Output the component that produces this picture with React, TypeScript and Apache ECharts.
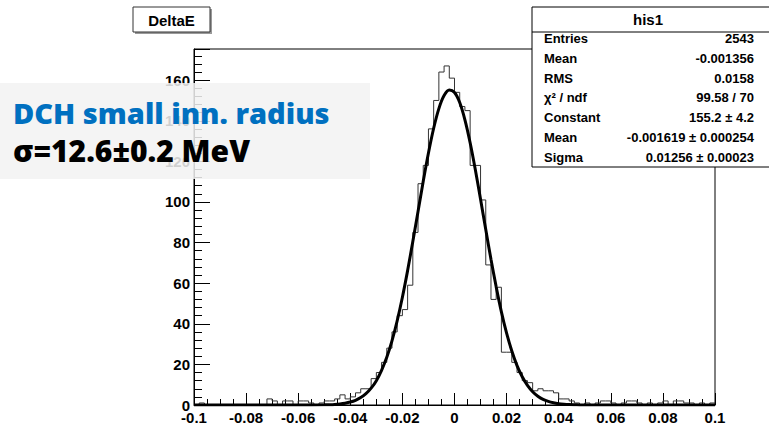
import React, { useEffect, useRef } from "react";
import * as echarts from "echarts";

// Histogram: 100 bins from -0.1 to 0.1 (bin width 0.002)
const binLow = -0.1;
const binWidth = 0.002;
const counts = [
  0, 1, 0, 0, 0, 0, 0, 0, 0, 0,
  0, 0, 0, 0, 3, 2, 0, 2, 2, 0,
  2, 2, 1, 0, 1, 2, 2, 3, 5, 3,
  4, 6, 8, 8, 13, 16, 21, 28, 36, 44,
  47, 59, 85, 109, 118, 136, 150, 164, 167, 161,
  154, 147, 145, 118, 118, 101, 69, 52, 58, 26,
  26, 21, 16, 12, 11, 7, 8, 7, 7, 6,
  3, 3, 2, 1, 0, 1, 0, 1, 2, 2,
  1, 0, 1, 2, 2, 1, 0, 1, 0, 1,
  2, 0, 2, 2, 1, 1, 0, 1, 0, 1,
];

// Gaussian fit curve
const fitX = [
  -0.1, -0.08, -0.06, -0.05, -0.048, -0.046, -0.044, -0.042, -0.04, -0.038, -0.036,
  -0.034, -0.032, -0.03, -0.028, -0.026, -0.024, -0.022, -0.02, -0.018, -0.016,
  -0.014, -0.012, -0.01, -0.008, -0.006, -0.004, -0.002, 0, 0.002, 0.004, 0.006,
  0.008, 0.01, 0.012, 0.014, 0.016, 0.018, 0.02, 0.022, 0.024, 0.026, 0.028, 0.03,
  0.032, 0.034, 0.036, 0.038, 0.04, 0.042, 0.044, 0.046, 0.048, 0.05, 0.06, 0.08, 0.1,
];
const fitY = [
  0, 0, 0, 0.09, 0.17, 0.3, 0.52, 0.88, 1.45, 2.33, 3.65,
  5.57, 8.29, 12.0, 17.1, 23.5, 31.6, 41.5, 53.1, 66.2, 80.5,
  95.3, 110.2, 124.1, 136.3, 146.0, 152.4, 155.1, 153.9, 149.0, 140.5, 129.2,
  115.9, 101.3, 86.4, 71.8, 58.2, 45.9, 35.4, 26.6, 19.4, 13.9, 9.65, 6.55,
  4.33, 2.8, 1.76, 1.08, 0.64, 0.38, 0.21, 0.12, 0.06, 0.03, 0, 0, 0,
];

const histTitle = "DeltaE";
const statsName = "his1";
const statsLabels = ["Entries", "Mean", "RMS", "χ² / ndf", "Constant", "Mean", "Sigma"];
const statsValues = [
  "2543",
  "-0.001356",
  "0.0158",
  "99.58 / 70",
  "155.2 ± 4.2",
  "-0.001619 ± 0.000254",
  "0.01256 ± 0.00023",
];
const noteLine1 = "DCH small inn. radius";
const noteLine2 = "σ=12.6±0.2 MeV";

export default function App() {
  const ref = useRef<HTMLDivElement>(null);
  useEffect(() => {
    if (!ref.current) return;
    const chart = echarts.init(ref.current, null, { renderer: "svg" });
    const histData: number[][] = counts.map((c, k) => [binLow + k * binWidth, c]);
    histData.push([binLow + counts.length * binWidth, counts[counts.length - 1]]);
    const fitData = fitX.map((x, i) => [x, fitY[i]]);
    const font = "'Liberation Sans', Arial, Helvetica, sans-serif";
    const noteFont = "'Open Sans', Lato, sans-serif";

    const statsTexts: any[] = [];
    statsLabels.forEach((l, i) => {
      const y = 38.5 + i * 19.75;
      statsTexts.push({
        type: "text", z: 101, x: 544, y,
        style: { text: l, font: `bold 13px ${font}`, fill: "#000", align: "left", verticalAlign: "middle" },
      });
      statsTexts.push({
        type: "text", z: 101, x: 754, y,
        style: { text: statsValues[i], font: `bold 13px ${font}`, fill: "#000", align: "right", verticalAlign: "middle" },
      });
    });

    chart.setOption({
      animation: false,
      backgroundColor: "#fff",
      grid: {
        left: 194, right: 54, top: 49, bottom: 28,
        show: true, borderColor: "#000", borderWidth: 1,
        containLabel: false, outerBoundsMode: "none",
      },
      xAxis: {
        type: "value", min: -0.1, max: 0.1, interval: 0.02,
        axisLine: { show: true, onZero: false, lineStyle: { color: "#000", width: 1 } },
        axisTick: { show: true, inside: true, length: 12, lineStyle: { color: "#000" } },
        minorTick: { show: true, splitNumber: 4, length: 6, lineStyle: { color: "#000" } },
        splitLine: { show: false },
        axisLabel: {
          margin: 5, color: "#000", fontSize: 15, fontWeight: "bold", fontFamily: font,
          formatter: (v: number) => String(parseFloat(v.toFixed(3))),
        },
      },
      yAxis: {
        type: "value", min: 0, max: 175.35, interval: 20,
        axisLine: { show: true, onZero: false, lineStyle: { color: "#000", width: 1 } },
        axisTick: { show: true, inside: true, length: 16, lineStyle: { color: "#000" } },
        minorTick: { show: true, splitNumber: 5, length: 8, lineStyle: { color: "#000" } },
        splitLine: { show: false },
        axisLabel: {
          margin: 4, color: "#000", fontSize: 15, fontWeight: "bold", fontFamily: font,
          showMaxLabel: false,
        },
      },
      series: [
        {
          type: "line", data: histData, step: "end", symbol: "none",
          lineStyle: { color: "#333", width: 1 }, z: 3,
        },
        {
          type: "line", data: fitData, smooth: 0.3, symbol: "none",
          lineStyle: { color: "#000", width: 3 }, z: 4,
        },
      ],
      graphic: [
        { type: "rect", z: 100, shape: { x: 135, y: 9, width: 77, height: 25 }, style: { fill: "#999" } },
        { type: "rect", z: 100, shape: { x: 133, y: 7, width: 77, height: 25 }, style: { fill: "#fff", stroke: "#333", lineWidth: 1 } },
        {
          type: "text", z: 101, x: 171.5, y: 20,
          style: { text: histTitle, font: `bold 15px ${font}`, fill: "#000", align: "center", verticalAlign: "middle" },
        },
        { type: "rect", z: 100, shape: { x: 532, y: 7, width: 240, height: 160 }, style: { fill: "#fff", stroke: "#000", lineWidth: 1 } },
        { type: "line", z: 101, shape: { x1: 532, y1: 32, x2: 769, y2: 32 }, style: { stroke: "#000", lineWidth: 1 } },
        {
          type: "text", z: 101, x: 648, y: 19.5,
          style: { text: statsName, font: `bold 15px ${font}`, fill: "#000", align: "center", verticalAlign: "middle" },
        },
        ...statsTexts,
        { type: "rect", z: 100, shape: { x: 0, y: 83, width: 370, height: 96 }, style: { fill: "rgba(242,242,242,0.86)" } },
        {
          type: "text", z: 101, x: 13, y: 112,
          style: { text: noteLine1, font: `800 29px ${noteFont}`, fill: "#0070C0", align: "left", verticalAlign: "middle" },
        },
        {
          type: "text", z: 101, x: 13, y: 150,
          style: { text: noteLine2, font: `800 30px ${noteFont}`, fill: "#000", align: "left", verticalAlign: "middle" },
        },
      ],
    });
    return () => chart.dispose();
  }, []);
  return <div ref={ref} style={{ position: "fixed", left: 0, top: 0, width: 769, height: 433 }} />;
}
